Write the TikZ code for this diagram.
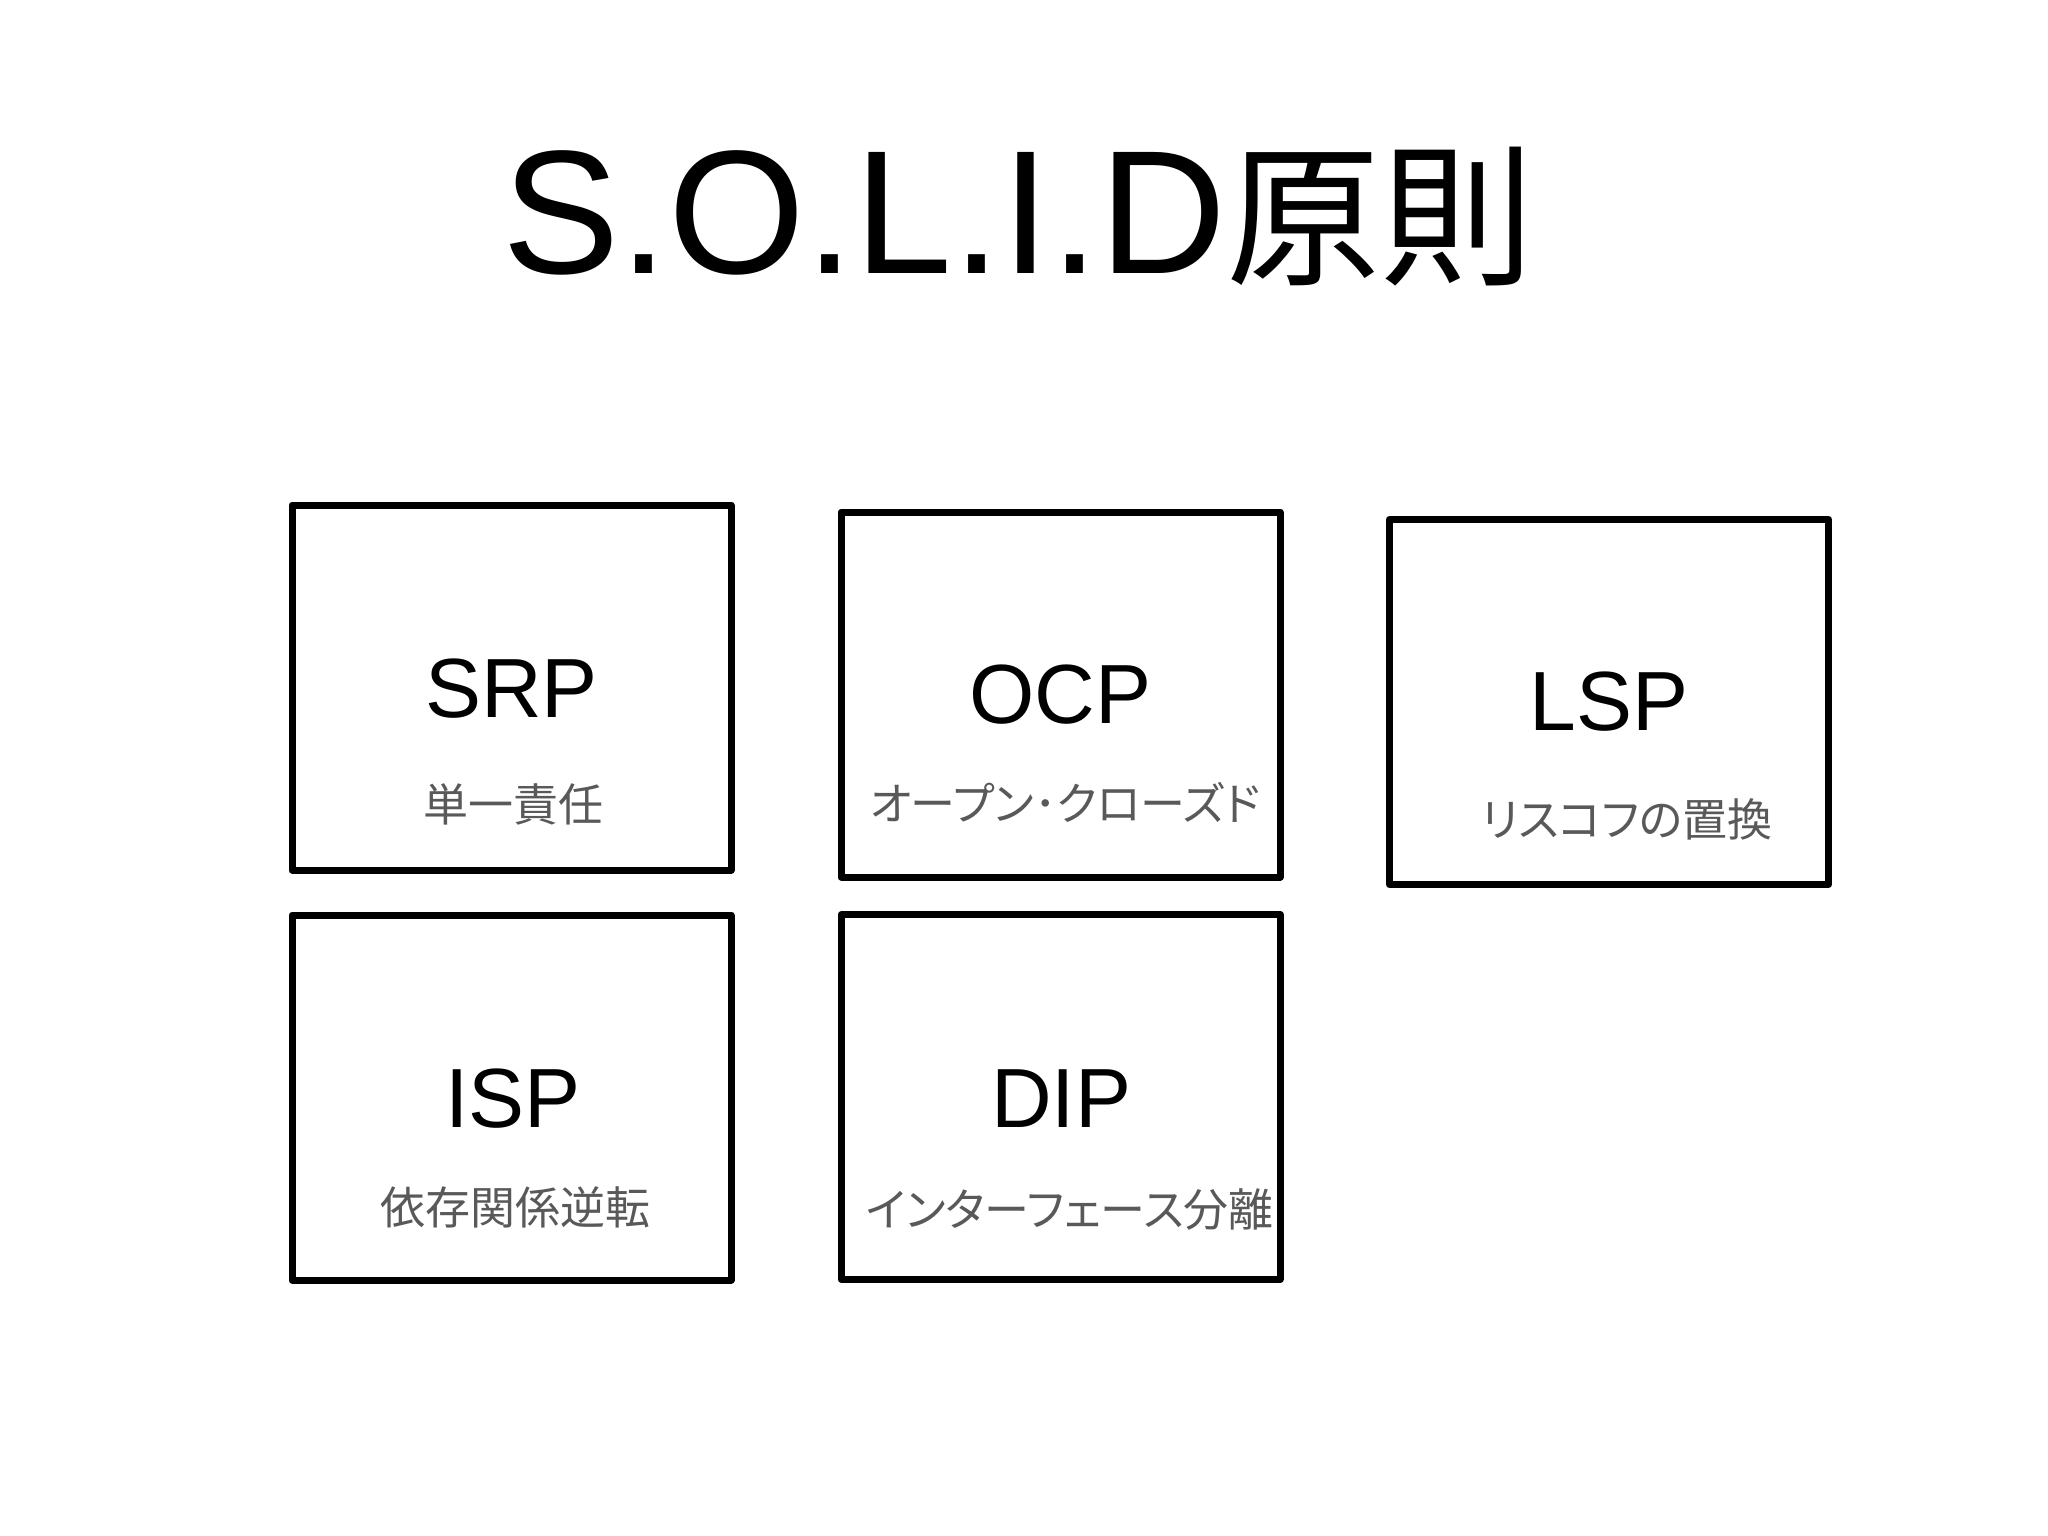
\documentclass[tikz,border=0pt]{standalone}
\usepackage{fontspec}
\setmainfont{Liberation Sans}
\newfontfamily\jpfont{Noto Sans CJK JP}
\newfontfamily\jppropfont[RawFeature=+palt]{Noto Sans CJK JP}
\definecolor{subgray}{RGB}{89,89,89}
\tikzset{
	principle/.style={draw=black, line width=3.5pt, line join=round, rectangle, minimum width=219.5pt, minimum height=182.5pt, inner sep=0pt},
	abbr/.style={anchor=base, inner sep=0pt, font=\fontsize{42}{48}\selectfont},
	gloss/.style={anchor=base, inner sep=0pt, text=subgray, font=\jpfont\fontsize{22.5}{27}\selectfont},
	kanagloss/.style={gloss, font=\jppropfont\fontsize{22.5}{27}\selectfont},
}
\begin{document}
\begin{tikzpicture}[x=0.5pt,y=0.5pt,yscale=-1,xscale=1]
	%set diagram left start at 0, and has height of 1535
	\fill [white] (0,0) rectangle (2048,1535);
	\useasboundingbox (0,0) rectangle (2048,1535);
	
	% Title
	\node [anchor=base west, inner sep=0pt] (title) at (502,274) {\fontsize{88}{100}\selectfont S.O.L.I.D{\jpfont\fontsize{77}{90}\selectfont 原則}};
	
	%Shape: Rectangle [SRP]
	\node [principle] (srp) at (511.5,687.5) {};
	%Shape: Rectangle [OCP]
	\node [principle] (ocp) at (1060.5,694.5) {};
	%Shape: Rectangle [LSP]
	\node [principle] (lsp) at (1609,702) {};
	%Shape: Rectangle [ISP]
	\node [principle] (isp) at (511.5,1097.5) {};
	%Shape: Rectangle [DIP]
	\node [principle] (dip) at (1060.5,1097) {};
	
	% Text Node
	\node [abbr] (srpname) at (511.5,717) {SRP};
	\node [gloss] (srpgloss) at (513,821) {単一責任};
	% Text Node
	\node [abbr] (ocpname) at (1060.5,723) {OCP};
	\node [kanagloss] (ocpgloss) at (1065,820) {オープン･クローズド};
	% Text Node
	\node [abbr] (lspname) at (1609,730) {LSP};
	\node [kanagloss] (lspgloss) at (1627,836) {リスコフの置換};
	% Text Node
	\node [abbr] (ispname) at (513,1127) {ISP};
	\node [gloss] (ispgloss) at (515,1224) {依存関係逆転};
	% Text Node
	\node [abbr] (dipname) at (1061,1127) {DIP};
	\node [kanagloss] (dipgloss) at (1070,1226) {インターフェース分離};
	
\end{tikzpicture}
\end{document}
